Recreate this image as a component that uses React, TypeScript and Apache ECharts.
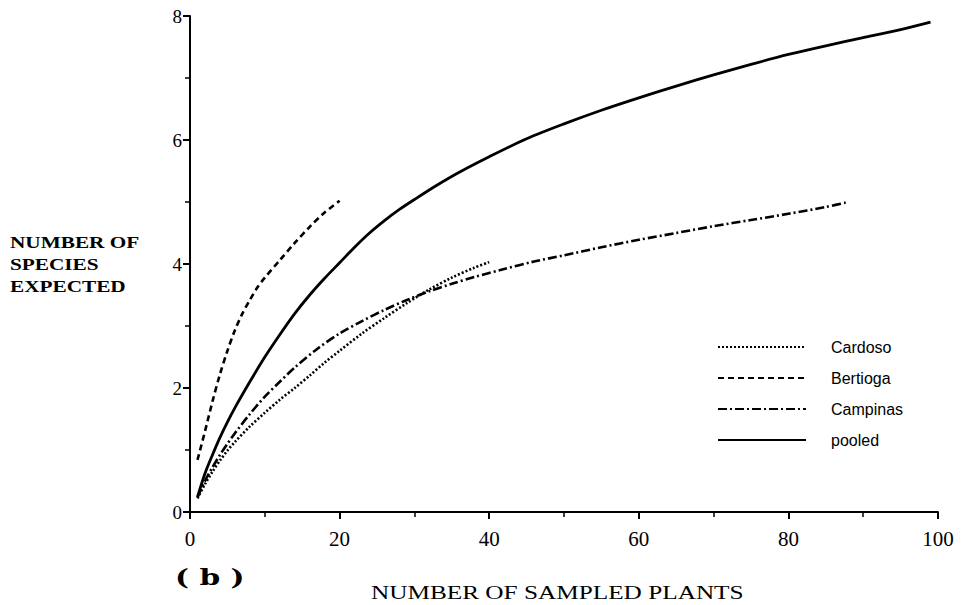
import React, { useEffect, useRef } from "react";
import * as echarts from "echarts";

const xTicks = [0, 20, 40, 60, 80, 100];
const yTicks = [0, 2, 4, 6, 8];

const cardoso: [number, number][] = [
  [1, 0.22], [2, 0.45], [3, 0.65], [4, 0.83], [5, 0.99], [6, 1.13], [8, 1.38], [10, 1.6],
  [12, 1.81], [14, 2.0], [16, 2.2], [18, 2.41], [20, 2.6], [23, 2.88], [26, 3.13],
  [29, 3.37], [32, 3.59], [35, 3.78], [38, 3.94], [40, 4.03],
];
const bertioga: [number, number][] = [
  [1, 0.84], [2, 1.3], [3, 1.78], [4, 2.22], [5, 2.6], [6, 2.93], [7, 3.2], [8, 3.42],
  [9, 3.62], [10, 3.78], [12, 4.06], [14, 4.34], [16, 4.6], [18, 4.83], [20, 5.02],
];
const campinas: [number, number][] = [
  [1, 0.24], [2, 0.5], [3, 0.72], [4, 0.92], [5, 1.1], [6, 1.27], [8, 1.58], [10, 1.86],
  [12, 2.1], [14, 2.33], [17, 2.63], [20, 2.88], [23, 3.08], [26, 3.26], [29, 3.42],
  [32, 3.56], [35, 3.68], [38, 3.79], [42, 3.92], [46, 4.04], [50, 4.14], [55, 4.27],
  [60, 4.39], [65, 4.5], [70, 4.61], [75, 4.71], [80, 4.81], [85, 4.92], [88, 5.0],
];
const pooled: [number, number][] = [
  [1, 0.24], [2, 0.62], [3, 0.92], [4, 1.2], [5, 1.45], [6, 1.68], [8, 2.1], [10, 2.5],
  [12, 2.86], [14, 3.2], [16, 3.5], [18, 3.77], [20, 4.02], [22, 4.27], [24, 4.5],
  [26, 4.7], [28, 4.88], [30, 5.04], [33, 5.27], [36, 5.48], [40, 5.73], [45, 6.02],
  [50, 6.26], [55, 6.48], [60, 6.68], [65, 6.87], [70, 7.05], [75, 7.22], [80, 7.38],
  [85, 7.52], [90, 7.65], [95, 7.78], [99, 7.9],
];

const seriesNames = ["Cardoso", "Bertioga", "Campinas", "pooled"];
const seriesData = [cardoso, bertioga, campinas, pooled];
const dashes: (number[] | "solid")[] = [[2, 2], [6, 4], [9, 3, 2, 3], "solid"];
const widths = [2.6, 2.6, 2.6, 2.8];

export default function App() {
  const ref = useRef<HTMLDivElement>(null);
  useEffect(() => {
    if (!ref.current) return;
    const chart = echarts.init(ref.current, null, { renderer: "svg" });
    const serif = "'Liberation Serif', 'Times New Roman', serif";
    chart.setOption({
      animation: false,
      backgroundColor: "#fff",
      grid: { left: 190, right: 25, top: 16, bottom: 93 },
      xAxis: {
        type: "value",
        min: 0,
        max: 100,
        interval: 20,
        axisLine: { show: true, lineStyle: { color: "#000", width: 2 } },
        axisTick: { show: true, length: 7, lineStyle: { color: "#000", width: 2 } },
        minorTick: { show: true, splitNumber: 2, length: 5, lineStyle: { color: "#000", width: 1.5 } },
        splitLine: { show: false },
        axisLabel: {
          margin: 16,
          fontFamily: serif,
          fontSize: 21,
          color: "#000",
          formatter: (v: number) => (xTicks.includes(v) ? String(v) : ""),
        },
      },
      yAxis: {
        type: "value",
        min: 0,
        max: 8,
        interval: 2,
        axisLine: { show: true, lineStyle: { color: "#000", width: 2 } },
        axisTick: { show: true, length: 7, lineStyle: { color: "#000", width: 2 } },
        minorTick: { show: true, splitNumber: 2, length: 5, lineStyle: { color: "#000", width: 1.5 } },
        splitLine: { show: false },
        axisLabel: {
          margin: 8,
          fontFamily: serif,
          fontSize: 19,
          color: "#000",
          formatter: (v: number) => (yTicks.includes(v) ? String(v) : ""),
        },
      },
      legend: {
        orient: "vertical",
        left: 712,
        top: 334,
        itemWidth: 88,
        itemHeight: 14,
        itemGap: 15,
        itemStyle: { opacity: 0 },
        textStyle: {
          fontFamily: "'Liberation Sans', Arial, sans-serif",
          fontSize: 16,
          color: "#000",
          padding: [0, 0, 0, 20],
        },
        data: seriesNames,
      },
      series: seriesNames.map((name, i) => ({
        name,
        type: "line",
        data: seriesData[i],
        smooth: 0.3,
        symbol: "none",
        showSymbol: false,
        lineStyle: { color: "#000", width: widths[i], type: dashes[i], join: "round" },
        itemStyle: { color: "#000" },
      })),
      graphic: [
        {
          type: "text",
          x: 10,
          y: 231,
          scaleX: 1.25,
          style: {
            text: "NUMBER OF\nSPECIES\nEXPECTED",
            font: `bold 17px ${serif}`,
            lineHeight: 22,
            fill: "#000",
            verticalAlign: "top",
          },
        },
        {
          type: "text",
          x: 371,
          y: 583,
          scaleX: 1.33,
          style: {
            text: "NUMBER OF SAMPLED PLANTS",
            font: `19px ${serif}`,
            fill: "#000",
            verticalAlign: "top",
          },
        },
        {
          type: "text",
          x: 175,
          y: 566,
          scaleX: 1.35,
          style: {
            text: "( b )",
            font: `bold 22px 'DejaVu Serif', serif`,
            fill: "#000",
            verticalAlign: "top",
          },
        },
      ],
    });
    return () => chart.dispose();
  }, []);
  return <div ref={ref} style={{ width: 963, height: 605, position: "absolute", left: 0, top: 0 }} />;
}
